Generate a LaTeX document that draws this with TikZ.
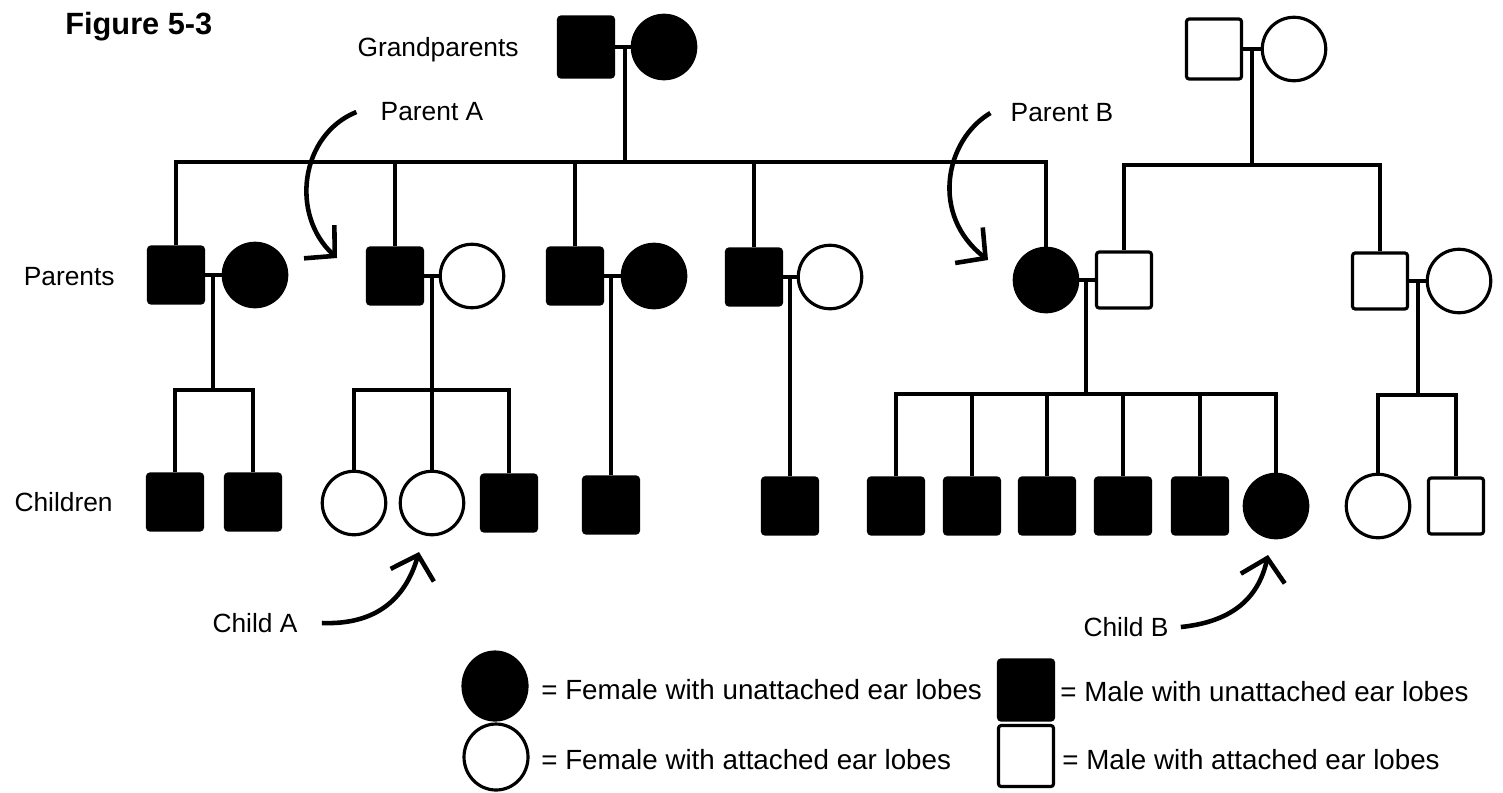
\documentclass[tikz,border=0pt]{standalone}
\usepackage{fontspec}
\setmainfont{Liberation Sans}
\usetikzlibrary{positioning,shapes.geometric,arrows.meta}

\begin{document}
\begin{tikzpicture}[
  x=0.02cm, y=-0.02cm,
  person/.style={draw, line width=1.8pt, inner sep=0pt},
  male/.style={person, rectangle, rounded corners=1.5pt, minimum width=1.1cm, minimum height=1.12cm},
  female/.style={person, circle, minimum size=1.27cm},
  aff/.style={fill=black},
  link/.style={line width=2.2pt},
  pointer/.style={line width=2.6pt, -{Straight Barb[length=0.42cm, width=0.9cm]}},
  lbl/.style={font=\fontsize{15}{18}\selectfont, inner sep=0pt},
  keytext/.style={font=\fontsize{15.8}{19}\selectfont, anchor=west, inner sep=0pt}
]
\path[use as bounding box, fill=white] (0,0) rectangle (1503,792);

% Title and row labels
\node[font=\bfseries\fontsize{17.5}{20}\selectfont, anchor=west, inner sep=0pt] (fig) at (65,27) {Figure 5-3};
\node[lbl, anchor=east] (lbl_gp) at (519,50) {Grandparents};
\node[lbl, anchor=east] (lbl_par) at (115,277) {Parents};
\node[lbl, anchor=east] (lbl_chi) at (113,502) {Children};

% Grandparents
\node[male, aff, minimum height=1.2cm] (gp_m) at (586,47) {};
\node[female, aff] (gp_f) at (664,47) {};
\node[male, minimum height=1.2cm] (gq_m) at (1214,49) {};
\node[female] (gq_f) at (1294,49) {};

% Parents
\node[male, aff] (p1_m) at (176,275) {};
\node[female, aff] (p1_f) at (255,275) {};
\node[male, aff] (p2_m) at (395,276) {};
\node[female] (p2_f) at (472,276) {};
\node[male, aff] (p3_m) at (575,276) {};
\node[female, aff] (p3_f) at (654,276) {};
\node[male, aff] (p4_m) at (754,277) {};
\node[female] (p4_f) at (830,277) {};
\node[female, aff] (p5_f) at (1046,280) {};
\node[male] (p5_m) at (1124,280) {};
\node[male] (p6_m) at (1380,281) {};
\node[female] (p6_f) at (1459,281) {};

% Children
\node[male, aff] (c1_1) at (175,502) {};
\node[male, aff] (c1_2) at (253,502) {};
\node[female] (c2_1) at (354,503) {};
\node[female] (c2_2) at (432,503) {};
\node[male, aff] (c2_3) at (509,503) {};
\node[male, aff] (c3_1) at (611,505) {};
\node[male, aff] (c4_1) at (790,506) {};
\foreach \i/\x in {1/896,2/972,3/1047,4/1123,5/1200}
  \node[male, aff] (c5_\i) at (\x,506) {};
\node[female, aff] (c5_6) at (1276,506) {};
\node[female] (c6_1) at (1378,506) {};
\node[male] (c6_2) at (1456,506) {};

% Marriage lines
\foreach \a/\b in {gp_m/gp_f, gq_m/gq_f, p1_m/p1_f, p2_m/p2_f, p3_m/p3_f, p4_m/p4_f, p5_f/p5_m, p6_m/p6_f}
  \draw[link] (\a) -- (\b);

% Grandparents to parents
\coordinate (gp_mid) at (625,47);
\coordinate (gp_sib) at (625,162);
\draw[link] (gp_mid) -- (gp_sib);
\draw[link] (p1_m.north) |- (gp_sib) -| (p5_f.north);
\foreach \n in {p2_m,p3_m,p4_m}
  \draw[link] (\n.north) -- (\n.north |- gp_sib);
\coordinate (gq_mid) at (1252,49);
\coordinate (gq_sib) at (1252,165);
\draw[link] (gq_mid) -- (gq_sib);
\draw[link] (p5_m.north) |- (gq_sib) -| (p6_m.north);

% Parents to children
\coordinate (p1_mid) at (213,275);
\coordinate (p1_sib) at (213,390);
\draw[link] (p1_mid) -- (p1_sib);
\draw[link] (c1_1.north) |- (p1_sib) -| (c1_2.north);
\coordinate (p2_mid) at (432,276);
\coordinate (p2_sib) at (432,390);
\draw[link] (p2_mid) -- (c2_2.north);
\draw[link] (c2_1.north) |- (p2_sib) -| (c2_3.north);
\coordinate (p3_mid) at (611,276);
\draw[link] (p3_mid) -- (c3_1.north);
\coordinate (p4_mid) at (790,277);
\draw[link] (p4_mid) -- (c4_1.north);
\coordinate (p5_mid) at (1086,280);
\coordinate (p5_sib) at (1086,394);
\draw[link] (p5_mid) -- (p5_sib);
\draw[link] (c5_1.north) |- (p5_sib) -| (c5_6.north);
\foreach \i in {2,...,5}
  \draw[link] (c5_\i.north) -- (c5_\i.north |- p5_sib);
\coordinate (p6_mid) at (1418,281);
\coordinate (p6_sib) at (1418,395);
\draw[link] (p6_mid) -- (p6_sib);
\draw[link] (c6_1.north) |- (p6_sib) -| (c6_2.north);

% Callouts
\node[lbl] (lbl_pa) at (432,112) {Parent A};
\coordinate (pa_tip) at (337,258);
\draw[pointer] ([xshift=-0.48cm]lbl_pa.west) .. controls (300,135) and (290,215) .. (pa_tip);
\node[lbl] (lbl_pb) at (1062,113) {Parent B};
\coordinate (pb_tip) at (988,260);
\draw[pointer] ([xshift=-0.4cm]lbl_pb.west) .. controls (945,140) and (930,215) .. (pb_tip);
\node[lbl] (lbl_ca) at (255,623) {Child A};
\coordinate (ca_tip) at (419,552);
\draw[pointer] ([xshift=0.48cm]lbl_ca.east) .. controls (375,625) and (405,600) .. (ca_tip);
\node[lbl] (lbl_cb) at (1126,627) {Child B};
\coordinate (cb_tip) at (1268,555);
\draw[pointer] ([xshift=0.24cm]lbl_cb.east) .. controls (1230,622) and (1258,600) .. (cb_tip);

% Legend
\node[person, ellipse, aff, minimum width=1.28cm, minimum height=1.36cm] (key_fu) at (495,686) {};
\node[keytext] (key_fu_txt) at (541,690) {= Female with unattached ear lobes};
\node[male, aff, minimum height=1.2cm] (key_mu) at (1026,690) {};
\node[keytext] (key_mu_txt) at (1060,692) {= Male with unattached ear lobes};
\node[person, ellipse, minimum width=1.28cm, minimum height=1.32cm] (key_fa) at (496,757) {};
\node[keytext] (key_fa_txt) at (541,760) {= Female with attached ear lobes};
\node[male, minimum height=1.22cm] (key_ma) at (1026,756) {};
\node[keytext] (key_ma_txt) at (1062,760) {= Male with attached ear lobes};
\end{tikzpicture}
\end{document}
